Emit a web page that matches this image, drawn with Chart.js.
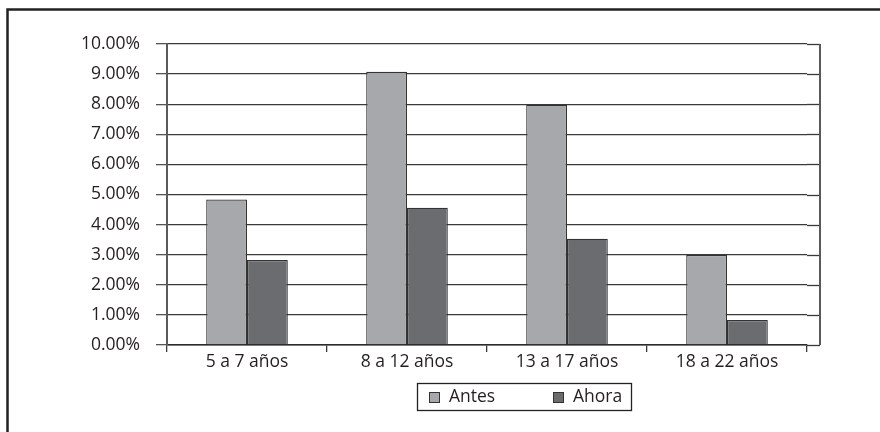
<!DOCTYPE html>
<html>
<head>
<meta charset="utf-8">
<script src="https://cdn.jsdelivr.net/npm/chart.js@4/dist/chart.umd.min.js"></script>
<style>
  html, body { margin: 0; padding: 0; background: #fff; overflow: hidden; }
  #wrap { position: relative; width: 880px; height: 432px; }
</style>
</head>
<body>
<div id="wrap"><canvas id="c" width="880" height="432"></canvas></div>
<script>
// Age groups and the share of each group, before and now (percent)
const categories = ['5 a 7 años', '8 a 12 años', '13 a 17 años', '18 a 22 años'];
const antes = [4.83, 9.08, 7.98, 2.99];
const ahora = [2.82, 4.56, 3.53, 0.83];
const seriesNames = ['Antes', 'Ahora'];
const yTicks = [0, 1, 2, 3, 4, 5, 6, 7, 8, 9, 10];

const FONT = "'Open Sans', 'DejaVu Sans', sans-serif";
const TEXT = '#231f20';
const LIGHT = '#a7a8ab';
const DARK = '#6b6c70';
const EDGE = '#333333';

// White page with the outer frame (top and left edges visible)
const framePlugin = {
  id: 'frame',
  beforeDraw(chart) {
    const ctx = chart.ctx;
    ctx.save();
    ctx.fillStyle = '#fff';
    ctx.fillRect(0, 0, chart.width, chart.height);
    ctx.strokeStyle = '#222';
    ctx.lineWidth = 2.5;
    ctx.beginPath();
    ctx.moveTo(7.5, chart.height + 5);
    ctx.lineTo(7.5, 9.5);
    ctx.lineTo(chart.width + 5, 9.5);
    ctx.stroke();
    ctx.restore();
  }
};

// Plot-area margin on the right: gridlines run on to a closing vertical edge
const plotEdgePlugin = {
  id: 'plotEdge',
  afterDraw(chart) {
    const { ctx, chartArea, scales } = chart;
    const ext = 13;
    const right = chartArea.right + ext;
    ctx.save();
    ctx.strokeStyle = '#3a3a3a';
    ctx.lineWidth = 1.3;
    scales.y.ticks.forEach(t => {
      const y = Math.round(scales.y.getPixelForValue(t.value)) + 0.5;
      ctx.beginPath();
      ctx.moveTo(chartArea.right, y);
      ctx.lineTo(right, y);
      ctx.stroke();
    });
    ctx.strokeStyle = '#5a5a5a';
    ctx.lineWidth = 2;
    ctx.beginPath();
    ctx.moveTo(right, scales.y.getPixelForValue(10));
    ctx.lineTo(right, scales.y.getPixelForValue(0));
    ctx.stroke();
    ctx.restore();
  }
};

// Boxed legend under the axis
const boxLegendPlugin = {
  id: 'boxLegend',
  afterDraw(chart) {
    const ctx = chart.ctx;
    const ds = chart.data.datasets;
    const box = { x: 417, y: 383, w: 214, h: 27 };
    const itemX = [429, 553];
    ctx.save();
    ctx.strokeStyle = '#222';
    ctx.lineWidth = 1.3;
    ctx.strokeRect(box.x + 0.5, box.y + 0.5, box.w, box.h);
    ctx.font = '17.5px ' + FONT;
    ctx.textBaseline = 'middle';
    ds.forEach((d, i) => {
      const cy = box.y + box.h / 2 + 1;
      ctx.fillStyle = d.backgroundColor;
      ctx.fillRect(itemX[i], cy - 5.5, 10, 10);
      ctx.strokeStyle = EDGE;
      ctx.lineWidth = 1;
      ctx.strokeRect(itemX[i] + 0.5, cy - 5, 10, 10);
      ctx.fillStyle = TEXT;
      ctx.fillText(d.label, itemX[i] + 20, cy);
    });
    ctx.restore();
  }
};

new Chart(document.getElementById('c'), {
  type: 'bar',
  data: {
    labels: categories,
    datasets: [
      { label: seriesNames[0], data: antes, backgroundColor: LIGHT, borderColor: EDGE, borderWidth: 1.2 },
      { label: seriesNames[1], data: ahora, backgroundColor: DARK, borderColor: EDGE, borderWidth: 1.2 }
    ]
  },
  options: {
    responsive: false,
    animation: false,
    events: [],
    categoryPercentage: 0.51,
    barPercentage: 1.0,
    layout: { padding: { left: 80, right: 73, top: 44, bottom: 47 } },
    plugins: {
      legend: { display: false },
      tooltip: { enabled: false },
      title: { display: false }
    },
    scales: {
      x: {
        offset: true,
        grid: {
          offset: true,
          drawOnChartArea: false,
          drawTicks: true,
          tickLength: 7,
          color: '#3a3a3a',
          lineWidth: 1.3
        },
        border: { display: true, color: '#2a2a2a', width: 1.5 },
        ticks: {
          color: TEXT,
          font: { family: FONT, size: 17.5 },
          padding: 0,
          maxRotation: 0,
          autoSkip: false
        },
        afterFit(scale) { scale.height = 40; }
      },
      y: {
        min: 0,
        max: 10,
        afterBuildTicks(scale) { scale.ticks = yTicks.map(v => ({ value: v })); },
        grid: {
          color: '#3a3a3a',
          lineWidth: 1.3,
          drawTicks: true,
          tickLength: 11,
          tickColor: '#555'
        },
        border: { display: true, color: '#5a5a5a', width: 2 },
        ticks: {
          color: TEXT,
          font: { family: FONT, size: 17.5 },
          padding: 16,
          callback: v => v.toFixed(2) + '%'
        },
        afterFit(scale) { scale.width = 87; }
      }
    }
  },
  plugins: [framePlugin, plotEdgePlugin, boxLegendPlugin]
});
</script>
</body>
</html>
